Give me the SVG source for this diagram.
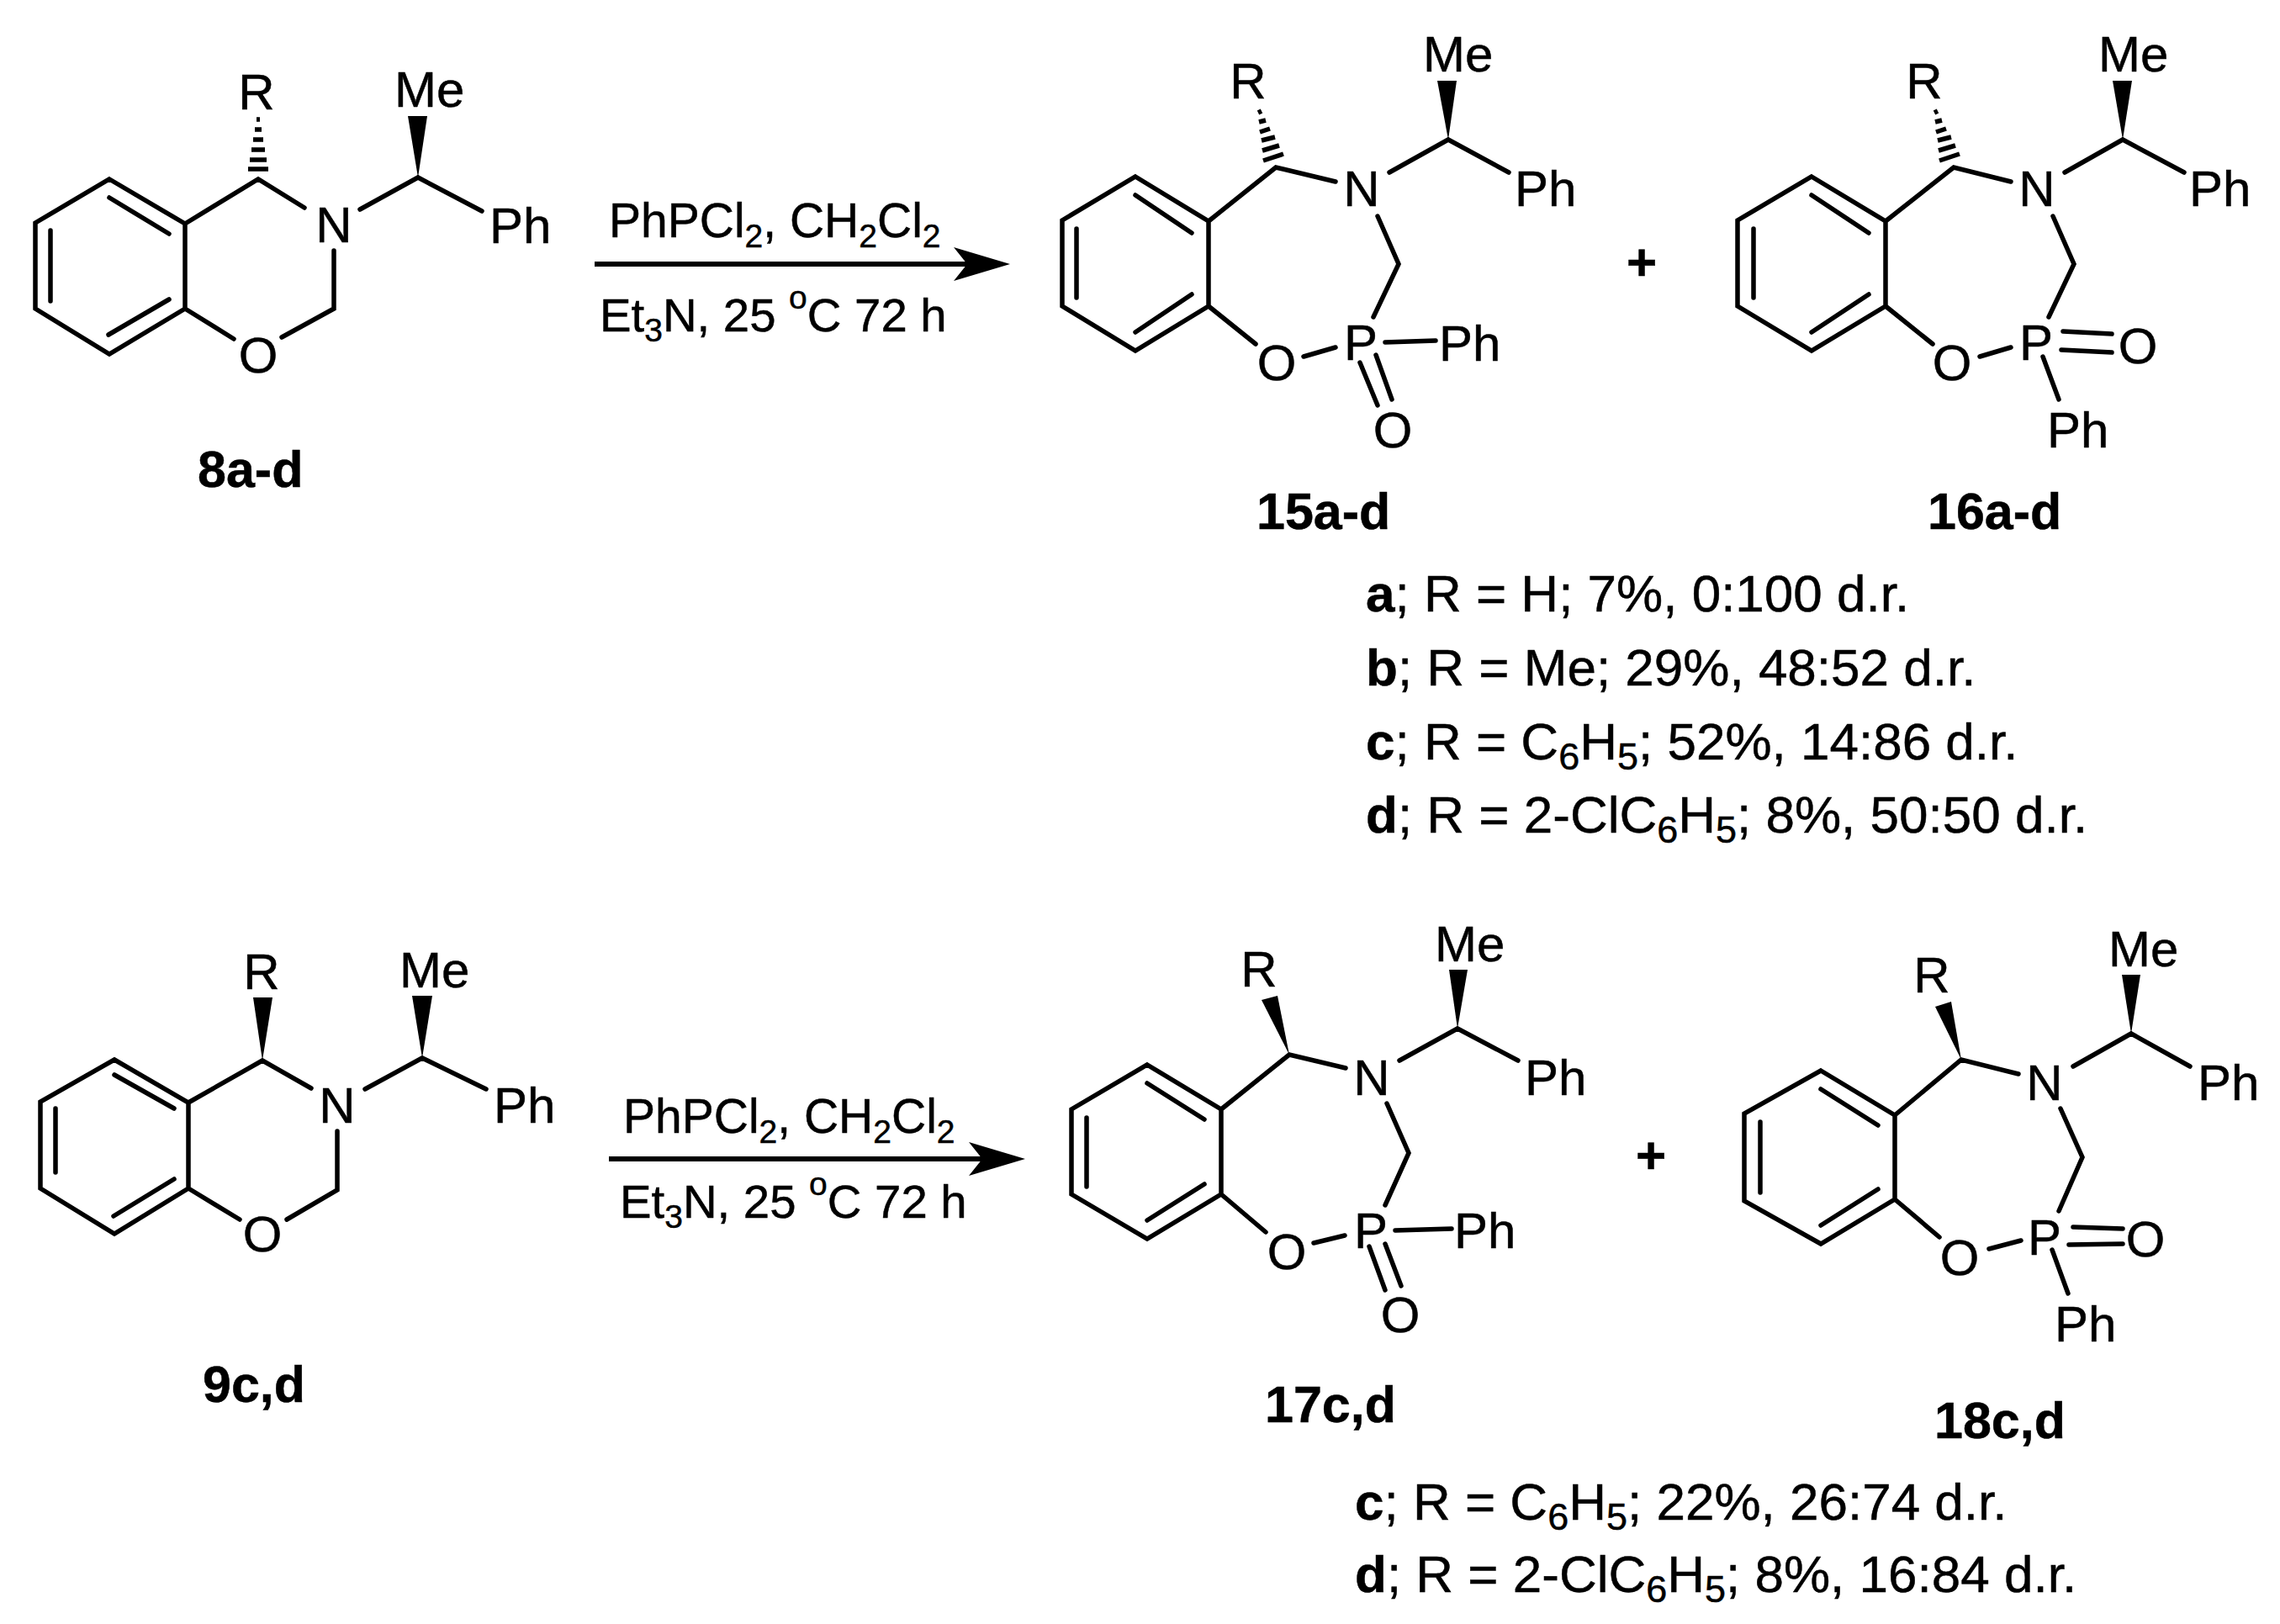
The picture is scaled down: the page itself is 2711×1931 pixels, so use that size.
<svg xmlns="http://www.w3.org/2000/svg" width="2711" height="1931" viewBox="0 0 2711 1931">
<style>
text{font-family:"Liberation Sans",Arial,sans-serif;fill:#000;stroke:#000;stroke-width:.5}
.a{font-size:60px}
.m{font-size:60px;text-anchor:middle}
.r{font-size:57px}
.e{font-size:56.3px}
.l{font-size:62px}
.lab{font-size:61px;font-weight:bold}
.b{font-weight:bold}
.plus{font-size:62px;font-weight:bold;text-anchor:middle}
.bond{fill:none;stroke:#000;stroke-width:5.5;stroke-linecap:round;stroke-linejoin:miter}
.hash{fill:none;stroke:#000;stroke-width:5.5}
.wedge{fill:#000;stroke:none}
.arrow{fill:none;stroke:#000;stroke-width:6}
</style>
<defs>
<marker id="head" markerUnits="userSpaceOnUse" markerWidth="70" markerHeight="44" refX="16" refY="22" orient="auto"><path d="M0 2L67 22L0 42L16 22Z" fill="#000"/></marker>
<path id="hashA" d="M1496 134L1500 132M1497 145L1505 143M1498 157L1510 153M1500 167L1516 163M1501 179L1521 173M1502 191L1526 183"/>
</defs>
<rect width="2711" height="1931" fill="#fff"/>

<g id="connectors">
<path class="arrow" d="M707 314H1150" marker-end="url(#head)"/>
<path class="arrow" d="M724 1378H1168" marker-end="url(#head)"/>
</g>

<g id="mol-8">
<path class="bond" d="M130 213L220 266V367L130 421L42 367V265ZM60 274V358M130 235L201 278M129 398L201 356M220 266L307 213L362 247M397 298V367L335 401M220 367L278 403M497 211L428 249M497 211L573 251"/>
<path class="hash" d="M305 142h4M303 154h8M301 166h12M299 178h16M297 190h20M295 201h24"/>
<polygon class="wedge" points="485,138 508,138 497,211"/>
<text class="m" x="305" y="130">R</text>
<text class="a" x="469" y="127">Me</text>
<text class="m" x="397" y="288">N</text>
<text class="a" x="582" y="289">Ph</text>
<text class="m" x="307" y="443">O</text>
<text class="lab" x="235" y="579">8a-d</text>
</g>

<g id="reagents-1">
<text class="r" x="724" y="282">PhPCl<tspan font-size="39" dy="12">2</tspan><tspan dy="-12">, CH</tspan><tspan font-size="39" dy="12">2</tspan><tspan dy="-12">Cl</tspan><tspan font-size="39" dy="12">2</tspan></text>
<text class="e" x="713" y="394">Et<tspan font-size="39" dy="12">3</tspan><tspan dy="-12">N, 25 </tspan><tspan font-size="39" dy="-27">o</tspan><tspan dy="27">C 72 h</tspan></text>
</g>

<g id="mol-15">
<path class="bond" d="M1350 210L1437 263V364L1350 417L1263 364V262ZM1280 272V354M1350 232L1417 277M1350 395L1417 350M1437 263L1517 199L1588 216M1638 257L1663 314L1633 377M1437 364L1493 409M1550 424L1588 413M1647 407L1707 405M1617 431L1638 482M1636 422L1655 475M1722 166L1652 205M1722 166L1794 205"/>
<use href="#hashA" class="hash"/>
<polygon class="wedge" points="1709,96 1732,96 1722,166"/>
<text class="m" x="1484" y="117">R</text>
<text class="a" x="1692" y="85">Me</text>
<text class="m" x="1619" y="245">N</text>
<text class="a" x="1801" y="245">Ph</text>
<text class="m" x="1518" y="452">O</text>
<text class="m" x="1618" y="428">P</text>
<text class="a" x="1711" y="429">Ph</text>
<text class="m" x="1656" y="532">O</text>
<text class="lab" x="1494" y="629">15a-d</text>
</g>

<g id="plus-1"><text class="plus" x="1952" y="333">+</text></g>

<g id="mol-16">
<path class="bond" d="M2154 210L2242 263V364L2154 417L2066 364V262ZM2085 272V354M2154 232L2222 277M2154 395L2222 350M2242 263L2323 199L2391 216M2441 257L2466 314L2436 377M2242 364L2298 409M2354 424L2391 413M2453 394L2511 397M2451 416L2511 419M2429 424L2448 475M2524 166L2455 205M2524 166L2597 205"/>
<use href="#hashA" class="hash" transform="translate(804 0)"/>
<polygon class="wedge" points="2512,96 2535,96 2524,166"/>
<text class="m" x="2288" y="117">R</text>
<text class="a" x="2495" y="85">Me</text>
<text class="m" x="2422" y="245">N</text>
<text class="a" x="2603" y="245">Ph</text>
<text class="m" x="2321" y="452">O</text>
<text class="m" x="2421" y="428">P</text>
<text class="m" x="2542" y="432">O</text>
<text class="a" x="2434" y="532">Ph</text>
<text class="lab" x="2292" y="629">16a-d</text>
</g>

<g id="table-1">
<text class="l" x="1624" y="727"><tspan class="b">a</tspan>; R = H; 7%, 0:100 d.r.</text>
<text class="l" x="1624" y="815"><tspan class="b">b</tspan>; R = Me; 29%, 48:52 d.r.</text>
<text class="l" x="1624" y="903"><tspan class="b">c</tspan>; R = C<tspan font-size="45" dy="12">6</tspan><tspan dy="-12">H</tspan><tspan font-size="45" dy="12">5</tspan><tspan dy="-12">; 52%, 14:86 d.r.</tspan></text>
<text class="l" x="1624" y="990"><tspan class="b">d</tspan>; R = 2-ClC<tspan font-size="45" dy="12">6</tspan><tspan dy="-12">H</tspan><tspan font-size="45" dy="12">5</tspan><tspan dy="-12">; 8%, 50:50 d.r.</tspan></text>
</g>

<g id="mol-9">
<path class="bond" d="M136 1260L224 1311V1413L136 1467L48 1413V1310ZM66 1318V1394M136 1278L207 1318M135 1446L207 1402M224 1311L312 1261L370 1294M401 1345V1415L341 1450M224 1413L285 1450M502 1258L434 1295M502 1258L578 1295"/>
<polygon class="wedge" points="301,1186 324,1186 312,1261"/>
<polygon class="wedge" points="490,1184 514,1184 502,1258"/>
<text class="m" x="311" y="1176">R</text>
<text class="a" x="475" y="1174">Me</text>
<text class="m" x="401" y="1335">N</text>
<text class="a" x="587" y="1335">Ph</text>
<text class="m" x="312" y="1488">O</text>
<text class="lab" x="241" y="1667">9c,d</text>
</g>

<g id="reagents-2">
<text class="r" x="741" y="1347">PhPCl<tspan font-size="39" dy="12">2</tspan><tspan dy="-12">, CH</tspan><tspan font-size="39" dy="12">2</tspan><tspan dy="-12">Cl</tspan><tspan font-size="39" dy="12">2</tspan></text>
<text class="e" x="737" y="1448">Et<tspan font-size="39" dy="12">3</tspan><tspan dy="-12">N, 25 </tspan><tspan font-size="39" dy="-27">o</tspan><tspan dy="27">C 72 h</tspan></text>
</g>

<g id="mol-17">
<path class="bond" d="M1364 1266L1452 1319V1420L1364 1473L1274 1420V1319ZM1292 1329V1411M1364 1288L1432 1331M1364 1451L1432 1408M1452 1319L1533 1254L1600 1270M1649 1312L1675 1371L1647 1433M1452 1420L1505 1465M1562 1478L1599 1469M1659 1463L1726 1461M1628 1482L1647 1534M1647 1479L1666 1529M1733 1223L1664 1261M1733 1223L1805 1261"/>
<polygon class="wedge" points="1500,1189 1519,1184 1533,1254"/>
<polygon class="wedge" points="1723,1153 1745,1153 1733,1223"/>
<text class="m" x="1497" y="1173">R</text>
<text class="a" x="1706" y="1143">Me</text>
<text class="m" x="1631" y="1302">N</text>
<text class="a" x="1813" y="1302">Ph</text>
<text class="m" x="1530" y="1509">O</text>
<text class="m" x="1630" y="1484">P</text>
<text class="a" x="1729" y="1484">Ph</text>
<text class="m" x="1665" y="1584">O</text>
<text class="lab" x="1504" y="1691">17c,d</text>
</g>

<g id="plus-2"><text class="plus" x="1963" y="1395">+</text></g>

<g id="mol-18">
<path class="bond" d="M2165 1273L2253 1326V1426L2165 1479L2074 1428V1324ZM2093 1334V1418M2165 1295L2233 1338M2165 1457L2233 1414M2253 1326L2332 1260L2400 1277M2450 1318L2476 1376L2448 1440M2253 1426L2306 1471M2365 1485L2403 1475M2465 1459L2524 1461M2460 1480L2524 1479M2440 1486L2459 1538M2534 1229L2465 1268M2534 1229L2604 1268"/>
<polygon class="wedge" points="2301,1197 2320,1191 2332,1260"/>
<polygon class="wedge" points="2523,1159 2545,1159 2534,1229"/>
<text class="m" x="2297" y="1180">R</text>
<text class="a" x="2507" y="1149">Me</text>
<text class="m" x="2431" y="1308">N</text>
<text class="a" x="2613" y="1308">Ph</text>
<text class="m" x="2330" y="1516">O</text>
<text class="m" x="2431" y="1492">P</text>
<text class="m" x="2551" y="1494">O</text>
<text class="a" x="2443" y="1595">Ph</text>
<text class="lab" x="2300" y="1710">18c,d</text>
</g>

<g id="table-2">
<text class="l" x="1611" y="1807"><tspan class="b">c</tspan>; R = C<tspan font-size="45" dy="12">6</tspan><tspan dy="-12">H</tspan><tspan font-size="45" dy="12">5</tspan><tspan dy="-12">; 22%, 26:74 d.r.</tspan></text>
<text class="l" x="1611" y="1893"><tspan class="b">d</tspan>; R = 2-ClC<tspan font-size="45" dy="12">6</tspan><tspan dy="-12">H</tspan><tspan font-size="45" dy="12">5</tspan><tspan dy="-12">; 8%, 16:84 d.r.</tspan></text>
</g>
</svg>
